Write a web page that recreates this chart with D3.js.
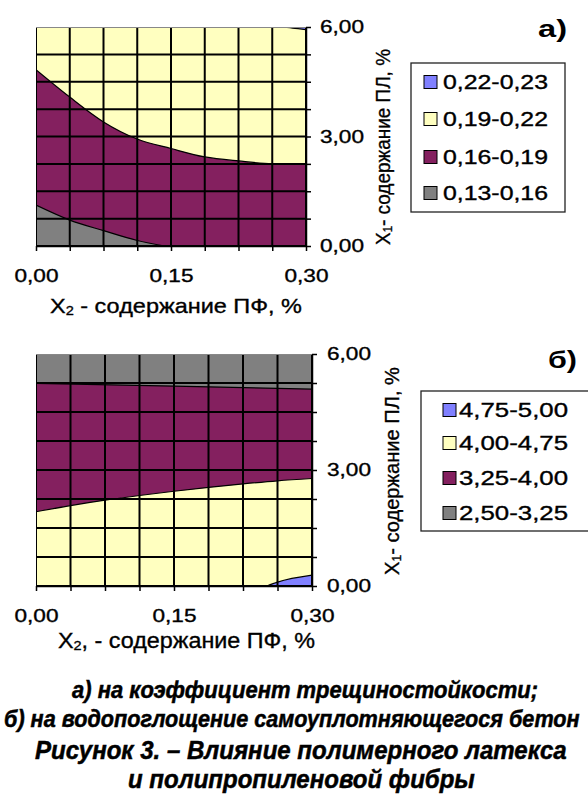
<!DOCTYPE html>
<html><head><meta charset="utf-8">
<script src="https://cdn.jsdelivr.net/npm/d3@7"></script>
<style>
html,body{margin:0;padding:0;background:#fff;}
svg{display:block;}
</style></head><body>
<svg id="c" width="588" height="798"></svg>
<script>
// ---------- data ----------
const xGrid = [0, 0.0375, 0.075, 0.1125, 0.15, 0.1875, 0.225, 0.2625, 0.30];
const yGrid = [0, 0.75, 1.5, 2.25, 3, 3.75, 4.5, 5.25, 6];
const xTickValues = [0, 0.15, 0.30];
const xTickLabels = ["0,00", "0,15", "0,30"];
const yTickValues = [0, 3, 6];
const yTickLabels = ["0,00", "3,00", "6,00"];

const legendA = ["0,22-0,23", "0,19-0,22", "0,16-0,19", "0,13-0,16"];
const legendB = ["4,75-5,00", "4,00-4,75", "3,25-4,00", "2,50-3,25"];
const levelColors = ["#8080FF", "#FFFFC0", "#84205F", "#808080"];

// chart а) contour boundaries (x = X2, y = X1)
const aC019x = [0, 0.0375, 0.075, 0.1125, 0.15, 0.1875, 0.225, 0.2625, 0.30];
const aC019y = [4.83, 4.08, 3.40, 2.93, 2.67, 2.44, 2.33, 2.26, 2.26];
const aC016x = [0, 0.0375, 0.075, 0.1125, 0.143];
const aC016y = [1.12, 0.71, 0.42, 0.15, 0];
const aC022x = [0.27, 0.285, 0.30];
const aC022y = [6, 5.97, 5.93];

// chart б) contour boundaries
const bC325x = [0, 0.15, 0.30];
const bC325y = [5.24, 5.17, 5.09];
const bC400x = [0, 0.0375, 0.075, 0.1125, 0.15, 0.1875, 0.225, 0.2625, 0.30];
const bC400y = [1.92, 2.08, 2.22, 2.34, 2.45, 2.55, 2.64, 2.72, 2.78];
const bC475x = [0.251, 0.2625, 0.30];
const bC475y = [0, 0.10, 0.28];

const captions = [
  "а) на коэффициент трещиностойкости;",
  "б) на водопоглощение самоуплотняющегося бетон",
  "Рисунок 3. – Влияние полимерного латекса",
  "и полипропиленовой фибры"
];

// ---------- drawing ----------
const svg = d3.select("#c");
const FONT = "'Liberation Sans', Arial, sans-serif";
const zip = (xs, ys) => xs.map((v, i) => [v, ys[i]]);
const heavy = sel => sel.attr("stroke", "#000").attr("stroke-width", 0.35).attr("paint-order", "stroke");

function drawChart(o) {
  const g = svg.append("g");
  const x = d3.scaleLinear().domain([0, 0.3]).range([o.left, o.right]);
  const y = d3.scaleLinear().domain([0, 6]).range([o.bottom, o.top]);
  const cid = "clip" + o.id;
  g.append("clipPath").attr("id", cid).append("rect")
    .attr("x", o.left).attr("y", o.top)
    .attr("width", o.right - o.left).attr("height", o.bottom - o.top);
  const plot = g.append("g").attr("clip-path", `url(#${cid})`);
  plot.append("rect").attr("x", o.left).attr("y", o.top)
    .attr("width", o.right - o.left).attr("height", o.bottom - o.top)
    .attr("fill", levelColors[1]);

  o.regions.forEach(r => {
    const pts = zip(r.xs, r.ys);
    const area = d3.area().x(d => x(d[0])).y0(y(r.base)).y1(d => y(d[1]))
      .curve(d3.curveMonotoneX);
    plot.append("path").attr("d", area(pts)).attr("fill", r.fill);
  });
  o.regions.forEach(r => {
    const pts = zip(r.xs, r.ys);
    const line = d3.line().x(d => x(d[0])).y(d => y(d[1])).curve(d3.curveMonotoneX);
    plot.append("path").attr("d", line(pts)).attr("fill", "none")
      .attr("stroke", "#000").attr("stroke-width", 1.2);
  });

  // grid
  plot.selectAll(".vg").data(xGrid).join("line")
    .attr("x1", d => x(d)).attr("x2", d => x(d))
    .attr("y1", o.top).attr("y2", o.bottom)
    .attr("stroke", "#000").attr("stroke-width", 2);
  plot.selectAll(".hg").data(yGrid.slice(0, -1)).join("line")
    .attr("y1", d => y(d)).attr("y2", d => y(d))
    .attr("x1", o.left).attr("x2", o.right)
    .attr("stroke", "#000").attr("stroke-width", 2);
  g.append("line").attr("x1", o.left).attr("x2", o.right)
    .attr("y1", o.top + 0.5).attr("y2", o.top + 0.5)
    .attr("stroke", "#888").attr("stroke-width", 1);

  // axes
  const yAxis = d3.axisRight(y).tickValues(yGrid).tickSize(5).tickSizeOuter(0)
    .tickPadding(o.yPad)
    .tickFormat(d => { const i = yTickValues.indexOf(d); return i >= 0 ? yTickLabels[i] : ""; });
  const ya = g.append("g").attr("transform", `translate(${o.right},0)`).call(yAxis);
  const xAxis = d3.axisBottom(x).tickValues(xGrid).tickSize(5).tickSizeOuter(0)
    .tickPadding(18)
    .tickFormat(d => { const i = xTickValues.indexOf(d); return i >= 0 ? xTickLabels[i] : ""; });
  const xa = g.append("g").attr("transform", `translate(0,${o.bottom})`).call(xAxis);
  [ya, xa].forEach(a => {
    a.attr("font-size", null).attr("font-family", null);
    a.selectAll("path.domain").attr("stroke", "#000").attr("stroke-width", 1.5);
    a.selectAll(".tick line").attr("stroke", "#000").attr("stroke-width", 1.5);
    a.selectAll(".tick text").attr("fill", "#000")
      .style("font-family", FONT).style("font-size", "18px")
      .each(function () {
        const t = d3.select(this);
        if (t.text() !== "") { t.attr("textLength", 44).attr("lengthAdjust", "spacingAndGlyphs"); heavy(t); }
      });
  });

  // x title
  const xt = g.append("text").attr("x", o.xtX).attr("y", o.xtY)
    .attr("dominant-baseline", "central")
    .style("font-family", FONT).style("font-size", o.xtSize + "px")
    .attr("textLength", o.xtLen).attr("lengthAdjust", "spacingAndGlyphs");
  heavy(xt);
  xt.append("tspan").text("X");
  xt.append("tspan").text("2").attr("dy", 5).style("font-size", (o.xtSize * 0.62) + "px");
  xt.append("tspan").text(o.xtRest).attr("dy", -5);

  // y title (rotated)
  const yt = g.append("text")
    .attr("transform", `translate(${o.ytX},${o.ytY}) rotate(-90)`)
    .attr("text-anchor", "middle").attr("dominant-baseline", "central")
    .style("font-family", FONT).style("font-size", "20px")
    .attr("textLength", o.ytLen).attr("lengthAdjust", "spacingAndGlyphs");
  heavy(yt);
  yt.append("tspan").text("X");
  yt.append("tspan").text("1").attr("dy", 5).style("font-size", "12px");
  yt.append("tspan").text("- содержание ПЛ, %").attr("dy", -5);

  // panel label
  g.append("text").attr("x", o.plX).attr("y", o.plY).attr("dominant-baseline", "central")
    .style("font-family", FONT).style("font-size", "24px").style("font-weight", "bold")
    .attr("textLength", 29).attr("lengthAdjust", "spacingAndGlyphs").text(o.panel);

  // legend
  const lg = g.append("g");
  lg.append("rect").attr("x", o.lgX).attr("y", o.lgY).attr("width", o.lgW).attr("height", o.lgH)
    .attr("fill", "#fff").attr("stroke", "#222").attr("stroke-width", 1.3);
  o.legend.forEach((lab, i) => {
    const cy = o.lgRows[i];
    lg.append("rect").attr("x", o.swX).attr("y", cy - 6.5).attr("width", 13).attr("height", 13)
      .attr("fill", levelColors[i]).attr("stroke", "#000").attr("stroke-width", 1);
    const t = lg.append("text").attr("x", o.txX).attr("y", cy).attr("dominant-baseline", "central")
      .style("font-family", FONT).style("font-size", "20px")
      .attr("textLength", o.txLen).attr("lengthAdjust", "spacingAndGlyphs").text(lab);
    heavy(t);
  });
}

drawChart({
  id: "a", left: 36, right: 306, top: 27, bottom: 246, yPad: 9,
  regions: [
    { xs: aC019x, ys: aC019y, base: 0, fill: levelColors[2] },
    { xs: aC016x, ys: aC016y, base: 0, fill: levelColors[3] },
    { xs: aC022x, ys: aC022y, base: 6, fill: levelColors[0] }
  ],
  xtX: 50, xtY: 305, xtSize: 21, xtLen: 252, xtRest: " - содержание ПФ, %",
  ytX: 383, ytY: 147, ytLen: 196,
  panel: "а)", plX: 538, plY: 28,
  legend: legendA, lgX: 411, lgY: 63, lgW: 154, lgH: 149,
  lgRows: [82, 119, 157, 193], swX: 424, txX: 443, txLen: 105
});

drawChart({
  id: "b", left: 36, right: 312, top: 354, bottom: 586, yPad: 10,
  regions: [
    { xs: bC400x, ys: bC400y, base: 6, fill: levelColors[2] },
    { xs: bC325x, ys: bC325y, base: 6, fill: levelColors[3] },
    { xs: bC475x, ys: bC475y, base: 0, fill: levelColors[0] }
  ],
  xtX: 58, xtY: 640, xtSize: 22, xtLen: 257, xtRest: ", - содержание ПФ, %",
  ytX: 392, ytY: 471, ytLen: 208,
  panel: "б)", plX: 548, plY: 359,
  legend: legendB, lgX: 421, lgY: 391, lgW: 200, lgH: 140,
  lgRows: [410, 443, 478, 513], swX: 443, txX: 459, txLen: 109
});

// captions: scaled horizontally to the widths seen in the figure
const capPos = [[72, 690, 466, 23], [4, 719, 576, 23], [35, 750, 532, 25], [128, 779, 347, 25]];
captions.forEach((c, i) => {
  const p = capPos[i];
  const t = svg.append("text").attr("x", 0).attr("y", 0).attr("dominant-baseline", "central")
    .style("font-family", "'Liberation Sans Narrow', 'Arial Narrow', 'Liberation Sans', sans-serif")
    .style("font-size", p[3] + "px").style("font-weight", "bold").style("font-style", "italic")
    .attr("stroke", "#000").attr("stroke-width", 0.5)
    .text(c);
  const w = t.node().getComputedTextLength();
  t.attr("transform", `translate(${p[0]},${p[1]}) scale(${p[2] / w},1)`);
});
</script>
</body></html>
